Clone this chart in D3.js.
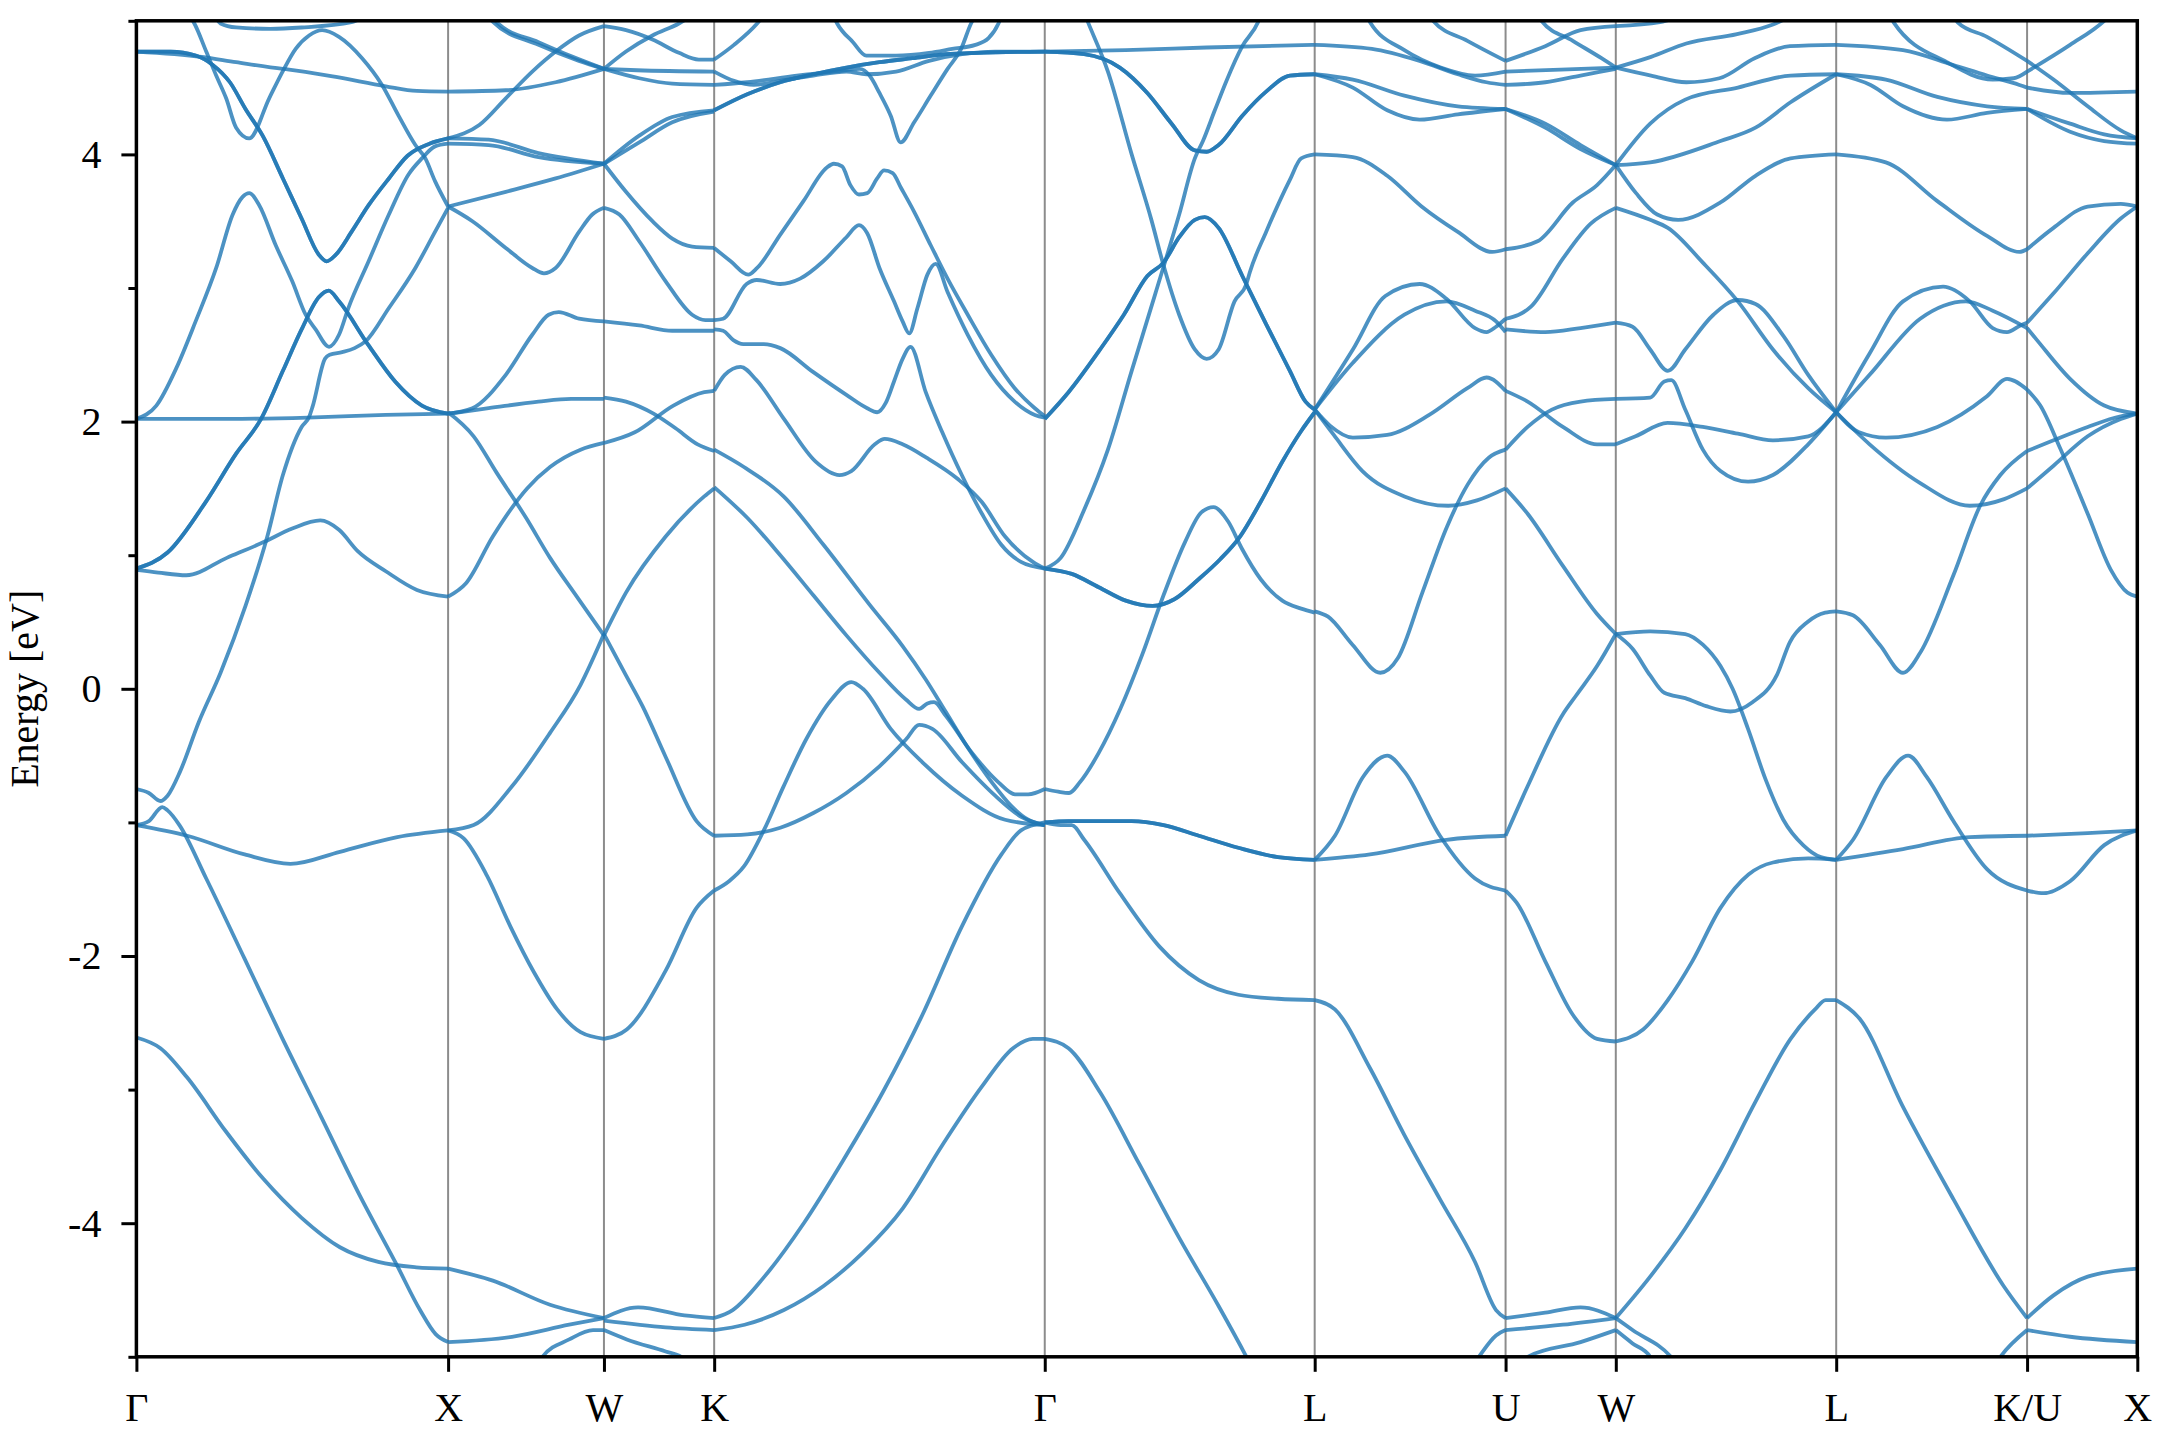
<!DOCTYPE html>
<html><head><meta charset="utf-8">
<script src="https://cdn.jsdelivr.net/npm/d3@7"></script>
<style>
body{margin:0;background:#fff}
svg{display:block}
text{font-family:"Liberation Serif","Times New Roman",serif}
</style>
</head><body>
<svg id="chart" width="2160" height="1440"></svg>
<script>
// ---------- data ----------
const kLabels = ["Γ","X","W","K","Γ","L","U","W","L","K/U","X"];
const kDist   = [0, 1.0, 1.5, 1.8536, 2.9142, 3.7802, 4.3926, 4.7462, 5.4533, 6.0657, 6.4193];
const yMajor  = [-4,-2,0,2,4];
const yMinor  = [-5,-3,-1,1,3,5];
const yLabel  = "Energy [eV]";

// each band: [fraction along segment, energy eV]
const gx_thickA = [[0,4.77],[0.11,4.77],[0.19,4.74],[0.245,4.67],[0.30,4.54],[0.35,4.34],[0.405,4.14],[0.47,3.82],[0.53,3.52],[0.585,3.25],[0.61,3.20],[0.64,3.25],[0.69,3.42],[0.745,3.62],[0.81,3.82],[0.87,3.99],[0.94,4.08],[1,4.12]];
const gx_thickD = [[0,0.90],[0.1,1.02],[0.22,1.39],[0.32,1.76],[0.40,2.02],[0.47,2.38],[0.53,2.69],[0.585,2.93],[0.617,2.98],[0.65,2.90],[0.745,2.57],[0.83,2.30],[0.916,2.12],[1,2.06]];
const segGX = [
  [[0.25,5.04],[0.27,4.98],[0.32,4.95],[0.43,4.94],[0.53,4.95],[0.69,4.99],[0.74,5.04]],
  gx_thickA, gx_thickA,
  [[0,4.77],[0.21,4.73],[0.32,4.69],[0.47,4.64],[0.49,4.635],[0.64,4.58],[0.8,4.51],[0.9,4.475],[1,4.47]],
  [[0.17,5.04],[0.186,4.98],[0.224,4.77],[0.256,4.59],[0.288,4.42],[0.32,4.2],[0.362,4.12],[0.426,4.42],[0.469,4.62],[0.511,4.79],[0.554,4.89],[0.596,4.93],[0.65,4.88],[0.724,4.72],[0.788,4.52],[0.841,4.29],[0.895,4.07],[0.927,3.97],[0.958,3.80],[1,3.61]],
  [[0,2.02],[0.064,2.12],[0.128,2.40],[0.19,2.75],[0.256,3.15],[0.309,3.55],[0.34,3.68],[0.362,3.71],[0.394,3.62],[0.447,3.32],[0.50,3.05],[0.543,2.80],[0.575,2.69],[0.618,2.56],[0.65,2.65],[0.68,2.85],[0.745,3.20],[0.81,3.55],[0.873,3.85],[0.916,3.97],[0.958,4.06],[1,4.08]],
  gx_thickD, gx_thickD,
  [[0,0.89],[0.07,0.87],[0.16,0.85],[0.29,0.98],[0.41,1.10],[0.5,1.2],[0.59,1.26],[0.65,1.19],[0.71,1.03],[0.8,0.88],[0.9,0.74],[1,0.69]],
  [[0,2.02],[0.3,2.02],[0.55,2.03],[0.8,2.05],[1,2.06]],
  [[0,-0.75],[0.04,-0.78],[0.077,-0.84],[0.1,-0.8],[0.14,-0.62],[0.2,-0.25],[0.27,0.12],[0.35,0.62],[0.42,1.14],[0.47,1.6],[0.53,1.96],[0.555,2.04],[0.565,2.11],[0.605,2.47],[0.62,2.50],[0.66,2.52],[0.70,2.55],[0.735,2.6],[0.81,2.85],[0.895,3.15],[0.958,3.42],[1,3.6]],
  [[0,-1.02],[0.04,-0.99],[0.083,-0.885],[0.10,-0.91],[0.138,-1.02],[0.224,-1.42],[0.347,-2.02],[0.469,-2.62],[0.592,-3.2],[0.714,-3.78],[0.837,-4.32],[0.91,-4.65],[0.96,-4.83],[1,-4.89]],
  [[0,-1.02],[0.163,-1.10],[0.347,-1.24],[0.494,-1.31],[0.653,-1.22],[0.837,-1.11],[1,-1.06]],
  [[0,-2.61],[0.077,-2.69],[0.163,-2.91],[0.286,-3.31],[0.408,-3.67],[0.53,-3.96],[0.653,-4.18],[0.776,-4.29],[0.898,-4.33],[1,-4.34]]
];
const segXW = [
  [[0,4.12],[0.2,4.22],[0.37,4.42],[0.54,4.62],[0.69,4.77],[0.84,4.89],[1,4.96]],
  [[0,4.12],[0.26,4.11],[0.58,4.01],[1,3.93]],
  [[0,4.08],[0.26,4.07],[0.58,3.98],[1,3.93]],
  [[0,4.47],[0.37,4.48],[0.69,4.54],[1,4.64]],
  [[0.28,5.04],[0.32,4.98],[0.58,4.84],[0.8,4.73],[1,4.64]],
  [[0.25,5.04],[0.29,4.99],[0.58,4.82],[0.84,4.70],[1,4.64]],
  [[0,3.61],[0.156,3.50],[0.37,3.30],[0.54,3.15],[0.615,3.11],[0.69,3.15],[0.84,3.42],[0.925,3.55],[1,3.60]],
  [[0,3.61],[0.37,3.72],[0.69,3.82],[1,3.93]],
  [[0,2.06],[0.07,2.07],[0.26,2.10],[0.58,2.15],[0.79,2.17],[1,2.17]],
  [[0,2.06],[0.156,2.10],[0.37,2.35],[0.54,2.65],[0.645,2.80],[0.71,2.82],[0.84,2.77],[1,2.75]],
  [[0,2.07],[0.164,1.89],[0.31,1.62],[0.5,1.28],[0.654,0.98],[0.826,0.69],[1,0.40]],
  [[0,0.69],[0.115,0.79],[0.287,1.14],[0.507,1.50],[0.654,1.66],[0.85,1.79],[1,1.84]],
  [[0,-1.06],[0.164,-1.02],[0.41,-0.73],[0.654,-0.33],[0.85,0.03],[1,0.41]],
  [[0,-1.06],[0.1,-1.12],[0.25,-1.4],[0.4,-1.78],[0.55,-2.12],[0.7,-2.4],[0.85,-2.57],[1,-2.62]],
  [[0,-4.34],[0.287,-4.43],[0.654,-4.61],[1,-4.71]],
  [[0,-4.89],[0.41,-4.85],[0.777,-4.76],[1,-4.71]],
  [[0.58,-5.04],[0.605,-5.0],[0.777,-4.87],[0.93,-4.80],[1,-4.80]]
];
const segWK = [
  [[0,4.96],[0.2,4.93],[0.44,4.86],[0.68,4.76],[0.86,4.71],[1,4.71]],
  [[0,4.64],[0.2,4.77],[0.44,4.89],[0.68,4.98],[0.8,5.04]],
  [[0,4.64],[0.3,4.63],[1,4.62]],
  [[0,4.64],[0.32,4.57],[0.62,4.53],[1,4.52]],
  [[0,3.93],[0.32,4.14],[0.62,4.28],[1,4.33]],
  [[0,3.93],[0.32,4.09],[0.62,4.24],[1,4.32]],
  [[0,3.93],[0.2,3.72],[0.44,3.50],[0.62,3.37],[0.8,3.31],[1,3.30]],
  [[0,3.60],[0.14,3.55],[0.32,3.35],[0.56,3.05],[0.8,2.80],[0.92,2.76],[1,2.76]],
  [[0,2.75],[0.32,2.72],[0.62,2.68],[1,2.68]],
  [[0,2.18],[0.2,2.15],[0.45,2.06],[0.65,1.95],[0.85,1.83],[1,1.78]],
  [[0,1.84],[0.28,1.92],[0.63,2.12],[0.91,2.22],[1,2.23]],
  [[0,0.40],[0.2,0.72],[0.56,1.14],[0.91,1.44],[1,1.50]],
  [[0,0.41],[0.2,0.1],[0.35,-0.13],[0.56,-0.51],[0.84,-0.99],[1,-1.1]],
  [[0,-2.62],[0.207,-2.55],[0.56,-2.11],[0.84,-1.64],[1,-1.51]],
  [[0,-4.71],[0.31,-4.63],[0.73,-4.69],[1,-4.71]],
  [[0,-4.73],[0.56,-4.78],[1,-4.80]],
  [[0,-4.80],[0.207,-4.87],[0.56,-4.96],[0.7,-5.0],[0.75,-5.04]]
];
const kg_thick = [[0,4.33],[0.1,4.45],[0.2,4.54],[0.3,4.6],[0.4,4.65],[0.5,4.69],[0.6,4.72],[0.7,4.75],[0.8,4.76],[1,4.77]];
const segKG = [
  [[0,4.71],[0.06,4.82],[0.13,4.98],[0.15,5.04]],
  kg_thick, kg_thick,
  [[0,4.52],[0.1,4.54],[0.25,4.59],[0.4,4.63],[0.44,4.64],[0.47,4.59],[0.5,4.46],[0.534,4.29],[0.564,4.09],[0.605,4.24],[0.655,4.44],[0.706,4.64],[0.747,4.79],[0.777,4.98],[0.79,5.04]],
  [[0,4.62],[0.06,4.55],[0.12,4.52],[0.2,4.55],[0.3,4.59],[0.4,4.62],[0.46,4.6],[0.55,4.62],[0.65,4.7],[0.75,4.75],[0.85,4.77],[1,4.77]],
  [[0.36,5.04],[0.372,4.98],[0.42,4.84],[0.46,4.74],[0.55,4.74],[0.65,4.76],[0.72,4.79],[0.79,4.82],[0.83,4.87],[0.86,4.98],[0.87,5.04]],
  [[0,3.30],[0.05,3.2],[0.103,3.10],[0.13,3.15],[0.2,3.40],[0.27,3.65],[0.34,3.90],[0.362,3.93],[0.387,3.91],[0.412,3.77],[0.438,3.70],[0.463,3.71],[0.493,3.82],[0.514,3.88],[0.54,3.86],[0.565,3.75],[0.605,3.57],[0.655,3.32],[0.706,3.07],[0.767,2.80],[0.838,2.50],[0.909,2.25],[0.97,2.10],[1,2.04]],
  [[0,2.76],[0.027,2.77],[0.098,3.03],[0.129,3.06],[0.2,3.03],[0.26,3.07],[0.33,3.2],[0.4,3.38],[0.438,3.47],[0.463,3.41],[0.5,3.15],[0.544,2.9],[0.57,2.75],[0.59,2.66],[0.615,2.85],[0.645,3.1],[0.67,3.18],[0.706,2.97],[0.767,2.65],[0.838,2.35],[0.909,2.15],[0.97,2.05],[1,2.03]],
  [[0,2.69],[0.027,2.68],[0.058,2.61],[0.088,2.58],[0.15,2.58],[0.2,2.55],[0.3,2.37],[0.4,2.2],[0.463,2.1],[0.493,2.07],[0.519,2.14],[0.544,2.3],[0.57,2.47],[0.594,2.56],[0.64,2.22],[0.69,1.92],[0.749,1.6],[0.81,1.31],[0.868,1.08],[0.928,0.95],[1,0.9]],
  [[0,2.23],[0.032,2.35],[0.08,2.41],[0.128,2.31],[0.211,2.02],[0.307,1.70],[0.379,1.60],[0.415,1.63],[0.486,1.83],[0.516,1.87],[0.57,1.83],[0.642,1.73],[0.737,1.57],[0.809,1.40],[0.88,1.14],[0.964,0.95],[1,0.90]],
  [[0,1.79],[0.09,1.66],[0.21,1.44],[0.33,1.08],[0.47,0.63],[0.57,0.32],[0.64,0.07],[0.7,-0.17],[0.77,-0.45],[0.84,-0.7],[0.9,-0.88],[0.95,-0.98],[1,-1.02]],
  [[0,1.51],[0.1,1.28],[0.2,1.0],[0.3,0.7],[0.4,0.4],[0.5,0.12],[0.58,-0.08],[0.62,-0.15],[0.645,-0.11],[0.665,-0.10],[0.7,-0.2],[0.78,-0.48],[0.86,-0.7],[0.91,-0.79],[0.95,-0.79],[1,-0.75]],
  [[0,-1.51],[0.045,-1.44],[0.09,-1.33],[0.15,-1.06],[0.21,-0.73],[0.28,-0.37],[0.355,-0.08],[0.415,0.05],[0.45,0.0],[0.534,-0.30],[0.63,-0.55],[0.75,-0.80],[0.88,-0.98],[1,-1.02]],
  [[0,-1.10],[0.1,-1.09],[0.2,-1.04],[0.3,-0.93],[0.4,-0.78],[0.5,-0.58],[0.58,-0.38],[0.62,-0.27],[0.66,-0.3],[0.75,-0.55],[0.85,-0.8],[0.93,-0.96],[1,-1.02]],
  [[0,-4.71],[0.056,-4.65],[0.152,-4.40],[0.271,-4.0],[0.39,-3.53],[0.51,-3.02],[0.63,-2.44],[0.749,-1.78],[0.869,-1.24],[0.928,-1.06],[1,-1.0]],
  [[0,-4.80],[0.092,-4.76],[0.211,-4.65],[0.331,-4.47],[0.45,-4.22],[0.57,-3.89],[0.689,-3.42],[0.809,-2.98],[0.904,-2.69],[0.964,-2.62],[1,-2.62]]
];
const gl_t1 = [[0,4.77],[0.146,4.75],[0.278,4.65],[0.38,4.46],[0.47,4.23],[0.556,4.03],[0.6,4.02],[0.644,4.07],[0.732,4.29],[0.82,4.47],[0.908,4.59],[1,4.60]];
const gl_t2 = [[0,2.02],[0.088,2.22],[0.205,2.54],[0.293,2.80],[0.38,3.09],[0.44,3.19],[0.498,3.38],[0.556,3.51],[0.593,3.53],[0.644,3.45],[0.732,3.09],[0.82,2.73],[0.908,2.38],[0.966,2.15],[1,2.09]];
const gl_t3 = [[0,0.9],[0.1,0.86],[0.2,0.76],[0.3,0.66],[0.4,0.62],[0.48,0.67],[0.57,0.82],[0.65,0.97],[0.72,1.13],[0.8,1.4],[0.88,1.7],[0.95,1.93],[1,2.07]];
const gl_t4 = [[0,-1.0],[0.088,-0.99],[0.205,-0.99],[0.322,-0.99],[0.44,-1.02],[0.571,-1.1],[0.717,-1.19],[0.864,-1.26],[1,-1.28]];
const segGL = [
  [[0,4.77],[0.3,4.78],[0.6,4.80],[1,4.82]],
  gl_t1, gl_t1,
  [[0.15,5.04],[0.16,4.99],[0.234,4.62],[0.322,4.0],[0.395,3.51],[0.44,3.17],[0.498,2.80],[0.556,2.54],[0.60,2.47],[0.644,2.54],[0.703,2.90],[0.747,3.03],[0.76,3.12],[0.82,3.42],[0.908,3.81],[0.95,3.97],[1,4.0]],
  gl_t2, gl_t2,
  [[0,0.9],[0.059,0.98],[0.146,1.34],[0.234,1.79],[0.322,2.38],[0.41,2.96],[0.498,3.55],[0.556,3.97],[0.586,4.1],[0.63,4.33],[0.673,4.55],[0.732,4.81],[0.79,4.99],[0.8,5.04]],
  gl_t3, gl_t3,
  [[0,-0.75],[0.05,-0.77],[0.09,-0.78],[0.13,-0.7],[0.2,-0.48],[0.28,-0.15],[0.36,0.25],[0.44,0.7],[0.52,1.1],[0.58,1.32],[0.625,1.36],[0.68,1.25],[0.73,1.05],[0.8,0.82],[0.88,0.66],[0.95,0.6],[1,0.57]],
  gl_t4, gl_t4,
  [[0,-1.0],[0.059,-1.02],[0.1,-1.02],[0.146,-1.13],[0.278,-1.53],[0.425,-1.93],[0.571,-2.18],[0.717,-2.29],[0.864,-2.32],[1,-2.33]],
  [[0,-2.62],[0.088,-2.69],[0.205,-3.02],[0.351,-3.56],[0.498,-4.11],[0.644,-4.62],[0.747,-5.0],[0.76,-5.05]]
];
const segLU = [
  [[0,4.82],[0.3,4.79],[0.55,4.7],[0.75,4.6],[0.9,4.54],[1,4.52]],
  [[0.6,5.04],[0.62,5.0],[0.8,4.85],[1,4.70]],
  [[0.27,5.04],[0.29,4.99],[0.47,4.78],[0.66,4.65],[0.84,4.59],[1,4.62]],
  [[0,4.6],[0.2,4.56],[0.47,4.44],[0.75,4.36],[1,4.34]],
  [[0,4.6],[0.2,4.5],[0.38,4.33],[0.55,4.26],[0.75,4.3],[1,4.34]],
  [[0,4.0],[0.2,3.98],[0.38,3.84],[0.56,3.61],[0.75,3.42],[0.93,3.27],[1,3.29]],
  [[0,2.09],[0.2,2.54],[0.37,2.94],[0.55,3.03],[0.69,2.92],[0.84,2.7],[0.9,2.67],[0.95,2.71],[1,2.77]],
  [[0,2.09],[0.2,2.44],[0.47,2.8],[0.69,2.9],[0.84,2.83],[0.95,2.75],[1,2.67]],
  [[0,2.09],[0.08,1.97],[0.2,1.88],[0.38,1.9],[0.6,2.05],[0.8,2.25],[0.9,2.33],[1,2.23]],
  [[0,2.09],[0.1,1.9],[0.25,1.63],[0.47,1.44],[0.7,1.37],[0.85,1.41],[1,1.5]],
  [[0,0.58],[0.07,0.54],[0.198,0.33],[0.344,0.12],[0.436,0.23],[0.564,0.72],[0.692,1.21],[0.802,1.53],[0.912,1.73],[1,1.79]],
  [[0,-1.28],[0.29,-1.24],[0.69,-1.13],[1,-1.10]],
  [[0,-1.28],[0.106,-1.10],[0.253,-0.66],[0.38,-0.5],[0.47,-0.62],[0.656,-1.1],[0.84,-1.42],[1,-1.51]],
  [[0,-2.33],[0.106,-2.40],[0.29,-2.84],[0.47,-3.34],[0.656,-3.82],[0.84,-4.29],[0.95,-4.65],[1,-4.71]],
  [[0.84,-5.04],[0.86,-5.0],[0.95,-4.84],[1,-4.80]]
];
const segUW = [
  [[0,4.70],[0.36,4.81],[0.68,4.93],[1,4.96]],
  [[0,4.62],[0.5,4.635],[1,4.65]],
  [[0,4.52],[0.36,4.54],[0.68,4.59],[1,4.64]],
  [[0.31,5.04],[0.325,5.0],[0.61,4.85],[0.87,4.72],[1,4.65]],
  [[0,4.34],[0.36,4.23],[0.68,4.07],[1,3.92]],
  [[0,4.34],[0.36,4.2],[0.68,4.04],[1,3.92]],
  [[0,3.29],[0.29,3.35],[0.61,3.64],[0.83,3.77],[1,3.92]],
  [[0,2.77],[0.23,2.86],[0.52,3.22],[0.77,3.48],[1,3.6]],
  [[0,2.69],[0.36,2.67],[0.68,2.70],[1,2.74]],
  [[0,2.23],[0.2,2.15],[0.52,1.96],[0.83,1.83],[1,1.83]],
  [[0,1.79],[0.2,1.96],[0.42,2.09],[0.68,2.15],[1,2.17]],
  [[0,1.5],[0.2,1.31],[0.52,0.92],[0.83,0.56],[1,0.41]],
  [[0,-1.1],[0.2,-0.73],[0.52,-0.19],[0.64,-0.05],[0.83,0.17],[1,0.41]],
  [[0,-1.51],[0.1,-1.6],[0.36,-2.04],[0.61,-2.44],[0.83,-2.62],[1,-2.64]],
  [[0,-4.71],[0.36,-4.67],[0.68,-4.63],[1,-4.71]],
  [[0,-4.8],[0.52,-4.76],[1,-4.71]],
  [[0.18,-5.04],[0.2,-5.0],[0.68,-4.89],[1,-4.80]]
];
const segWL = [
  [[0,4.96],[0.2,4.99],[0.3,5.04]],
  [[0,4.65],[0.16,4.73],[0.32,4.83],[0.55,4.9],[0.71,4.97],[0.8,5.04]],
  [[0,4.65],[0.16,4.59],[0.32,4.54],[0.47,4.57],[0.63,4.72],[0.79,4.81],[1,4.82]],
  [[0,3.92],[0.156,4.23],[0.315,4.41],[0.554,4.50],[0.793,4.59],[1,4.60]],
  [[0,3.92],[0.156,3.94],[0.475,4.10],[0.634,4.2],[0.793,4.39],[1,4.60]],
  [[0,3.92],[0.092,3.71],[0.188,3.55],[0.283,3.51],[0.475,3.64],[0.634,3.84],[0.793,3.97],[1,4.0]],
  [[0,3.6],[0.156,3.51],[0.236,3.45],[0.395,3.19],[0.554,2.9],[0.713,2.54],[0.873,2.25],[1,2.07]],
  [[0,2.74],[0.076,2.71],[0.156,2.54],[0.236,2.38],[0.315,2.54],[0.443,2.8],[0.554,2.91],[0.634,2.88],[0.761,2.64],[0.873,2.35],[1,2.07]],
  [[0,2.17],[0.156,2.18],[0.22,2.3],[0.252,2.31],[0.315,2.09],[0.395,1.79],[0.475,1.63],[0.6,1.55],[0.713,1.6],[0.873,1.83],[1,2.07]],
  [[0,1.83],[0.09,1.89],[0.235,1.99],[0.395,1.96],[0.554,1.91],[0.713,1.86],[0.873,1.89],[1,2.07]],
  [[0,0.41],[0.156,0.43],[0.315,0.41],[0.395,0.33],[0.475,0.17],[0.53,0.0],[0.6,-0.3],[0.68,-0.68],[0.76,-0.98],[0.85,-1.17],[0.93,-1.26],[1,-1.28]],
  [[0,0.41],[0.076,0.3],[0.156,0.1],[0.22,-0.03],[0.315,-0.07],[0.41,-0.13],[0.52,-0.17],[0.62,-0.1],[0.73,0.1],[0.79,0.35],[0.87,0.5],[0.95,0.57],[1,0.58]],
  [[0,-2.64],[0.124,-2.55],[0.236,-2.33],[0.347,-2.04],[0.475,-1.64],[0.602,-1.39],[0.713,-1.3],[0.873,-1.27],[1,-1.28]],
  [[0,-4.71],[0.156,-4.4],[0.315,-4.04],[0.475,-3.6],[0.634,-3.09],[0.793,-2.62],[0.904,-2.4],[0.952,-2.33],[1,-2.33]],
  [[0,-4.71],[0.076,-4.8],[0.25,-5.0],[0.27,-5.04]],
  [[0,-4.8],[0.076,-4.9],[0.156,-5.0],[0.17,-5.04]]
];
const segLK = [
  [[0,4.82],[0.35,4.78],[0.61,4.67],[0.79,4.59],[0.96,4.52],[1,4.50]],
  [[0.29,5.04],[0.3,4.99],[0.58,4.69],[0.82,4.56],[0.93,4.57],[1,4.62]],
  [[0.62,5.04],[0.635,4.99],[0.79,4.88],[1,4.70]],
  [[0,4.60],[0.26,4.56],[0.53,4.43],[0.79,4.36],[1,4.34]],
  [[0,4.60],[0.18,4.52],[0.35,4.36],[0.58,4.26],[0.79,4.31],[1,4.34]],
  [[0,4.0],[0.26,3.94],[0.53,3.65],[0.79,3.39],[0.96,3.27],[1,3.29]],
  [[0,2.07],[0.175,2.51],[0.35,2.90],[0.56,3.01],[0.7,2.90],[0.82,2.70],[0.895,2.67],[0.965,2.72],[1,2.74]],
  [[0,2.07],[0.175,2.35],[0.44,2.77],[0.68,2.90],[0.82,2.83],[1,2.70]],
  [[0,2.07],[0.12,1.92],[0.26,1.88],[0.53,1.96],[0.79,2.19],[0.895,2.32],[1,2.24]],
  [[0,2.07],[0.175,1.83],[0.44,1.54],[0.7,1.37],[0.88,1.42],[1,1.5]],
  [[0,0.58],[0.088,0.55],[0.228,0.33],[0.35,0.12],[0.44,0.27],[0.614,0.85],[0.754,1.37],[0.86,1.6],[1,1.78]],
  [[0,-1.28],[0.35,-1.2],[0.7,-1.11],[1,-1.1]],
  [[0,-1.28],[0.088,-1.13],[0.263,-0.66],[0.377,-0.5],[0.474,-0.66],[0.614,-0.99],[0.79,-1.35],[1,-1.51]],
  [[0,-2.33],[0.123,-2.47],[0.35,-3.13],[0.614,-3.82],[0.877,-4.47],[1,-4.71]],
  [[0.84,-5.04],[0.86,-5.0],[1,-4.8]]
];
const segKX = [
  [[0,4.62],[0.39,4.82],[0.7,5.0],[0.75,5.04]],
  [[0,4.70],[0.24,4.56],[0.55,4.36],[0.85,4.18],[1,4.12]],
  [[0,4.50],[0.39,4.46],[1,4.47]],
  [[0,4.34],[0.39,4.23],[0.7,4.15],[1,4.12]],
  [[0,4.34],[0.39,4.17],[0.7,4.10],[1,4.08]],
  [[0,3.29],[0.24,3.45],[0.55,3.61],[0.85,3.63],[1,3.61]],
  [[0,2.74],[0.24,2.96],[0.55,3.26],[0.85,3.52],[1,3.61]],
  [[0,2.70],[0.09,2.61],[0.39,2.32],[0.7,2.12],[1,2.06]],
  [[0,2.24],[0.12,2.12],[0.3,1.80],[0.55,1.31],[0.76,0.89],[0.91,0.72],[1,0.69]],
  [[0,1.78],[0.24,1.86],[0.55,1.96],[0.85,2.04],[1,2.06]],
  [[0,1.5],[0.24,1.67],[0.55,1.89],[0.85,2.02],[1,2.06]],
  [[0,-1.1],[0.55,-1.08],[1,-1.06]],
  [[0,-1.51],[0.15,-1.53],[0.39,-1.44],[0.7,-1.17],[1,-1.06]],
  [[0,-4.71],[0.24,-4.54],[0.55,-4.40],[1,-4.34]],
  [[0,-4.80],[0.39,-4.85],[1,-4.89]]
];
const segments = [segGX, segXW, segWK, segKG, segGL, segLU, segUW, segWL, segLK, segKX];

// ---------- drawing ----------
const svg = d3.select("#chart");
const m = {l:136.4, r:2137.3, t:20.8, b:1356.8};
const x = d3.scaleLinear().domain([kDist[0], kDist[kDist.length-1]]).range([m.l, m.r]);
const y = d3.scaleLinear().domain([-5, 5]).range([m.b, m.t]);

svg.append("rect").attr("width",2160).attr("height",1440).attr("fill","#fff");
svg.append("defs").append("clipPath").attr("id","clip")
  .append("rect").attr("x",m.l).attr("y",m.t).attr("width",m.r-m.l).attr("height",m.b-m.t);

// vertical lines at high-symmetry points
svg.append("g").selectAll("line").data(kDist.slice(1,-1)).join("line")
  .attr("x1",d=>x(d)).attr("x2",d=>x(d)).attr("y1",m.t).attr("y2",m.b)
  .attr("stroke","#000").attr("stroke-opacity",0.45).attr("stroke-width",2);

// bands
const line = d3.line().curve(d3.curveMonotoneX);
const g = svg.append("g").attr("clip-path","url(#clip)");
segments.forEach((seg,i)=>{
  const k0 = kDist[i], k1 = kDist[i+1];
  seg.forEach(band=>{
    const pts = band.map(([t,e])=>[x(k0 + t*(k1-k0)), y(e)]);
    g.append("path").attr("d", line(pts)).attr("fill","none")
      .attr("stroke","#1f77b4").attr("stroke-opacity",0.8)
      .attr("stroke-width",3.8).attr("stroke-linejoin","round").attr("stroke-linecap","butt");
  });
});

// axes
const fontSize = 40;
const yAxis = d3.axisLeft(y).tickValues(yMajor).tickSize(15).tickPadding(20)
  .tickFormat(d => String(d));
const yAxisMinor = d3.axisLeft(y).tickValues(yMinor).tickSize(8).tickFormat("");
const xAxis = d3.axisBottom(x).tickValues(kDist).tickSize(15).tickPadding(21)
  .tickFormat((d,i)=>kLabels[i]);

function styleAxis(sel){
  sel.attr("font-family","'Liberation Serif','Times New Roman',serif");
  sel.select(".domain").remove();
  sel.selectAll(".tick line").attr("stroke","#000").attr("stroke-width",3);
  sel.selectAll(".tick text").attr("font-size",fontSize).attr("fill","#000");
}
svg.append("g").attr("transform",`translate(${m.l},0)`).call(yAxis).call(styleAxis);
svg.append("g").attr("transform",`translate(${m.l},0)`).call(yAxisMinor).call(styleAxis);
svg.append("g").attr("transform",`translate(0,${m.b})`).call(xAxis).call(styleAxis);

// frame
svg.append("rect").attr("x",m.l).attr("y",m.t).attr("width",m.r-m.l).attr("height",m.b-m.t)
  .attr("fill","none").attr("stroke","#000").attr("stroke-width",3.5);

// y label
svg.append("text").attr("transform",`translate(38,${y(0)}) rotate(-90)`)
  .attr("text-anchor","middle").attr("font-size",fontSize).attr("fill","#000")
  .text(yLabel);
</script>
</body></html>
